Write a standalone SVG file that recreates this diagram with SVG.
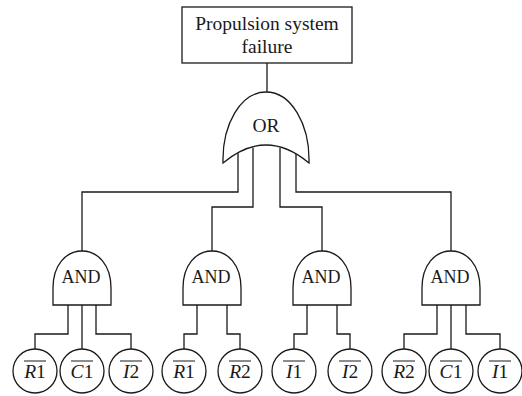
<svg xmlns="http://www.w3.org/2000/svg" width="522" height="396" viewBox="0 0 522 396">
<style>
.s{fill:none;stroke:#1a1a1a;stroke-width:1.3}
.n{fill:#fff;stroke:#1a1a1a;stroke-width:1.3}
.t{font-family:"Liberation Serif","Times New Roman",serif;fill:#1a1a1a;text-anchor:middle}
.e{font-size:19.5px}
.i{font-style:italic}
.ol{stroke:#1a1a1a;stroke-width:1}
</style>
<defs>
<path id="and" d="M-29,305 L-29,288 C-29,265 -16,251 0,251 C16,251 29,265 29,288 L29,305 Z"/>
<circle id="ev" cx="0" cy="371" r="22"/>
</defs>
<rect width="522" height="396" fill="#fff"/>
<g id="connectors" class="s">
<line x1="267" y1="63" x2="267" y2="93"/>
<polyline points="238,150 238,192 82,192 82,252"/>
<polyline points="253,148 253,207 212,207 212,252"/>
<polyline points="280,148 280,207 322,207 322,252"/>
<polyline points="296,150 296,192 451,192 451,252"/>
<polyline points="68,305 68,334 35,334 35,349"/>
<polyline points="82,305 82,349"/>
<polyline points="96,305 96,334 131,334 131,349"/>
<polyline points="197,305 197,334 184,334 184,349"/>
<polyline points="227,305 227,334 240,334 240,349"/>
<polyline points="307,305 307,334 294,334 294,349"/>
<polyline points="337,305 337,334 350,334 350,349"/>
<polyline points="437,305 437,334 404,334 404,349"/>
<polyline points="451,305 451,349"/>
<polyline points="466,305 466,334 500,334 500,349"/>
</g>
<g id="top">
<rect class="n" x="182" y="7" width="170" height="56"/>
<text class="t" x="267" y="30" font-size="19.5">Propulsion system</text>
<text class="t" x="267" y="53" font-size="19.5">failure</text>
</g>
<g id="or">
<path class="n" d="M223,163 C222,124 241,92 266,92 C291,92 310,124 309,163 Q266,127 223,163 Z"/>
<text class="t" x="266" y="132" font-size="19.5">OR</text>
</g>
<g id="and1">
<use href="#and" x="82" class="n"/>
<text class="t" x="81" y="283" font-size="18">AND</text>
</g>
<g id="and2">
<use href="#and" x="212" class="n"/>
<text class="t" x="211" y="283" font-size="18">AND</text>
</g>
<g id="and3">
<use href="#and" x="322" class="n"/>
<text class="t" x="321" y="283" font-size="18">AND</text>
</g>
<g id="and4">
<use href="#and" x="451" class="n"/>
<text class="t" x="450" y="283" font-size="18">AND</text>
</g>
<g id="e1"><use href="#ev" x="35" class="n"/><text class="t e" x="35" y="378"><tspan class="i">R</tspan>1</text><line class="ol" x1="24" y1="361" x2="46" y2="361"/></g>
<g id="e2"><use href="#ev" x="82" class="n"/><text class="t e" x="82" y="378"><tspan class="i">C</tspan>1</text><line class="ol" x1="71" y1="361" x2="93" y2="361"/></g>
<g id="e3"><use href="#ev" x="131" class="n"/><text class="t e" x="131" y="378"><tspan class="i">I</tspan>2</text><line class="ol" x1="120" y1="361" x2="142" y2="361"/></g>
<g id="e4"><use href="#ev" x="184" class="n"/><text class="t e" x="184" y="378"><tspan class="i">R</tspan>1</text><line class="ol" x1="173" y1="361" x2="195" y2="361"/></g>
<g id="e5"><use href="#ev" x="240" class="n"/><text class="t e" x="240" y="378"><tspan class="i">R</tspan>2</text><line class="ol" x1="229" y1="361" x2="251" y2="361"/></g>
<g id="e6"><use href="#ev" x="294" class="n"/><text class="t e" x="294" y="378"><tspan class="i">I</tspan>1</text><line class="ol" x1="283" y1="361" x2="305" y2="361"/></g>
<g id="e7"><use href="#ev" x="350" class="n"/><text class="t e" x="350" y="378"><tspan class="i">I</tspan>2</text><line class="ol" x1="339" y1="361" x2="361" y2="361"/></g>
<g id="e8"><use href="#ev" x="404" class="n"/><text class="t e" x="404" y="378"><tspan class="i">R</tspan>2</text><line class="ol" x1="393" y1="361" x2="415" y2="361"/></g>
<g id="e9"><use href="#ev" x="451" class="n"/><text class="t e" x="451" y="378"><tspan class="i">C</tspan>1</text><line class="ol" x1="440" y1="361" x2="462" y2="361"/></g>
<g id="e10"><use href="#ev" x="500" class="n"/><text class="t e" x="500" y="378"><tspan class="i">I</tspan>1</text><line class="ol" x1="489" y1="361" x2="511" y2="361"/></g>
</svg>
